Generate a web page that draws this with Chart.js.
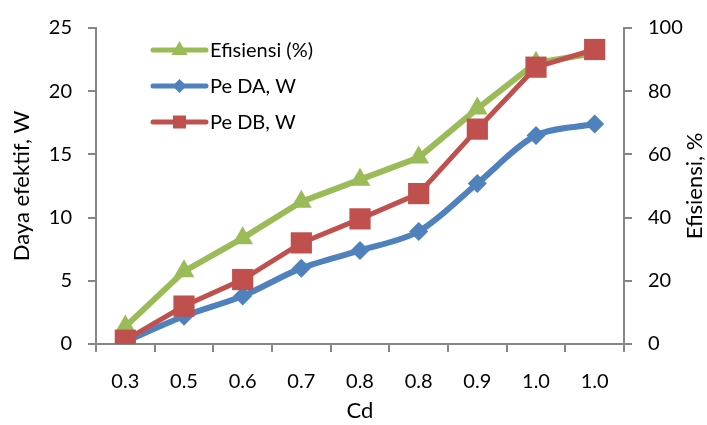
<!DOCTYPE html>
<html><head><meta charset="utf-8">
<script src="https://cdn.jsdelivr.net/npm/chart.js@4/dist/chart.umd.min.js"></script>
<style>html,body{margin:0;padding:0;background:#fff}#wrap{width:707px;height:425px}</style>
</head><body><div id="wrap"><canvas id="c"></canvas></div>
<script>
const categories = ['0.3','0.5','0.6','0.7','0.8','0.8','0.9','1.0','1.0'];
const peDA = [0.2, 2.2, 3.8, 6.0, 7.4, 8.9, 12.7, 16.5, 17.4];
const peDB = [0.3, 3.0, 5.1, 8.0, 9.9, 11.9, 17.0, 21.9, 23.3];
const efisiensi = [5.5, 23, 33.5, 45, 52, 59, 74.5, 89, 92];
const leftTicks = [0, 5, 10, 15, 20, 25];
const rightTicks = [0, 20, 40, 60, 80, 100];

const GREEN = '#9BBB59', BLUE = '#4F81BD', RED = '#C0504D', AX = '#868686';
const FONT = 'Lato';
const fs = 20;
const titleFs = 22;

const legendItems = [
  {label: 'Efisiensi (%)', color: GREEN, style: 'triangle'},
  {label: 'Pe DA, W', color: BLUE, style: 'diamond'},
  {label: 'Pe DB, W', color: RED, style: 'square'}
];

function marker(ctx, style, x, y, color, s) {
  ctx.fillStyle = color;
  ctx.beginPath();
  if (style === 'triangle') {
    ctx.moveTo(x, y - s); ctx.lineTo(x + s * 0.9, y + s * 0.55); ctx.lineTo(x - s * 0.9, y + s * 0.55);
  } else if (style === 'diamond') {
    ctx.moveTo(x, y - s); ctx.lineTo(x + s, y); ctx.lineTo(x, y + s); ctx.lineTo(x - s, y);
  } else {
    ctx.rect(x - s, y - s, 2 * s, 2 * s);
  }
  ctx.closePath(); ctx.fill();
}

const legendPlugin = {
  id: 'customLegend',
  afterDraw(chart) {
    const ctx = chart.ctx;
    ctx.save();
    const x0 = 153, x1 = 206, ys = [50, 86, 122];
    const sizes = {triangle: 9, diamond: 7, square: 6.5};
    legendItems.forEach((it, i) => {
      const y = ys[i];
      ctx.strokeStyle = it.color; ctx.lineWidth = 5; ctx.lineCap = 'round';
      ctx.beginPath(); ctx.moveTo(x0, y); ctx.lineTo(x1, y); ctx.stroke();
      marker(ctx, it.style, (x0 + x1) / 2, y, it.color, sizes[it.style]);
      ctx.fillStyle = '#000'; ctx.font = '20px ' + FONT; ctx.textBaseline = 'middle'; ctx.textAlign = 'left';
      ctx.fillText(it.label, 210, y + 1);
    });
    // right axis title, rotated to read upward like the reference
    const a = chart.chartArea;
    ctx.translate(695, (a.top + a.bottom) / 2);
    ctx.rotate(-Math.PI / 2);
    ctx.font = titleFs + 'px ' + FONT; ctx.textAlign = 'center'; ctx.textBaseline = 'middle';
    ctx.fillText('Efisiensi, %', 0, 0);
    ctx.restore();
  }
};

const tickFont = {family: FONT, size: fs};
new Chart(document.getElementById('c'), {
  type: 'line',
  data: {
    labels: categories,
    datasets: [
      {label: 'Pe DB, W', data: peDB, yAxisID: 'y', borderColor: RED, backgroundColor: RED, borderWidth: 5,
       pointStyle: 'rect', pointRadius: 15, pointHoverRadius: 15, pointBorderWidth: 0, tension: 0},
      {label: 'Pe DA, W', data: peDA, yAxisID: 'y', borderColor: BLUE, backgroundColor: BLUE, borderWidth: 6,
       pointStyle: 'rectRot', pointRadius: 9.5, pointHoverRadius: 9.5, pointBorderWidth: 0, tension: 0.3},
      {label: 'Efisiensi (%)', data: efisiensi, yAxisID: 'y1', borderColor: GREEN, backgroundColor: GREEN, borderWidth: 6,
       pointStyle: 'triangle', pointRadius: 12, pointHoverRadius: 12, pointBorderWidth: 0, tension: 0}
    ]
  },
  options: {
    responsive: true, maintainAspectRatio: false, animation: false,
    layout: {padding: {top: 25, left: 0, right: 0, bottom: 0}},
    plugins: {legend: {display: false}, tooltip: {enabled: false}},
    scales: {
      x: {
        type: 'category', offset: true,
        grid: {display: true, drawOnChartArea: false, drawTicks: true, tickLength: 8, color: AX, lineWidth: 2, offset: true},
        border: {color: AX, width: 2},
        ticks: {font: tickFont, color: '#000', padding: 18, maxRotation: 0, autoSkip: false},
        title: {display: true, text: 'Cd', font: {family: FONT, size: titleFs}, color: '#000', padding: {top: 0, bottom: 1}},
        afterFit(s) { s.height = 81; }
      },
      y: {
        position: 'left', min: 0, max: 25,
        afterBuildTicks(s) { s.ticks = leftTicks.map(v => ({value: v})); },
        grid: {display: true, drawOnChartArea: false, drawTicks: true, tickLength: 8, color: AX, lineWidth: 2},
        border: {color: AX, width: 2},
        ticks: {font: tickFont, color: '#000', padding: 16},
        title: {display: true, text: 'Daya efektif, W', font: {family: FONT, size: titleFs}, color: '#000', padding: {top: 9, bottom: 0}},
        afterFit(s) { s.width = 96; }
      },
      y1: {
        position: 'right', min: 0, max: 100,
        afterBuildTicks(s) { s.ticks = rightTicks.map(v => ({value: v})); },
        grid: {display: true, drawOnChartArea: false, drawTicks: true, tickLength: 8, color: AX, lineWidth: 2},
        border: {color: AX, width: 2},
        ticks: {font: tickFont, color: '#000', padding: 16},
        title: {display: false},
        afterFit(s) { s.width = 83; }
      }
    }
  },
  plugins: [legendPlugin]
});
</script>
</body></html>
